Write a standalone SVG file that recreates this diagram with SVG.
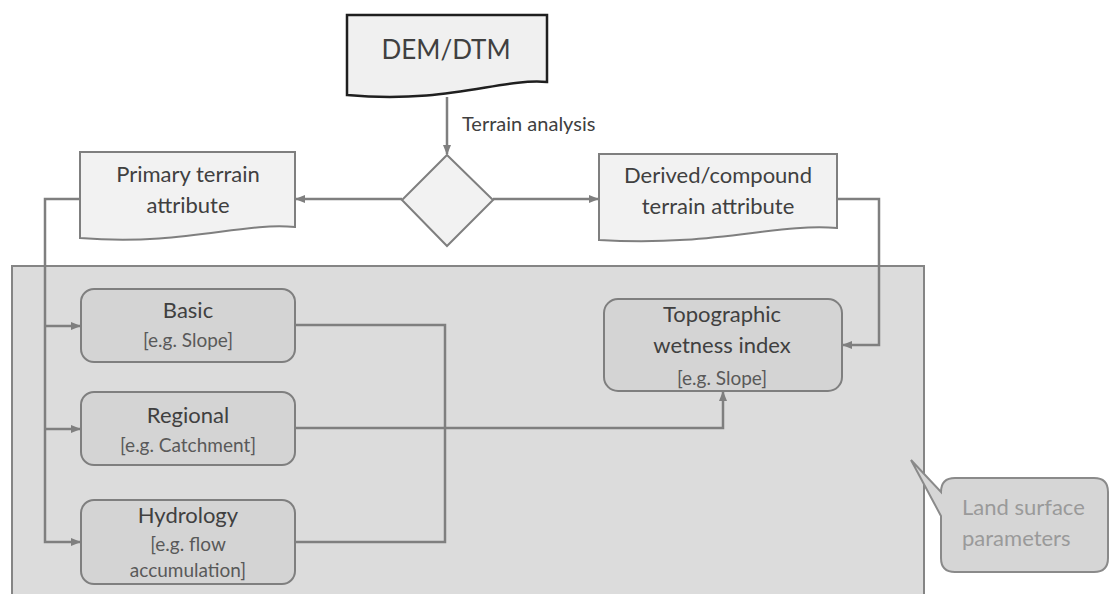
<svg xmlns="http://www.w3.org/2000/svg" width="1109" height="594" viewBox="0 0 1109 594">
<defs>
<marker id="ah" viewBox="0 0 10 10" refX="9" refY="5" markerWidth="10" markerHeight="10" markerUnits="userSpaceOnUse" orient="auto">
<path d="M0,1 L10,5 L0,9 Z" fill="#7f7f7f"/>
</marker>
<style>
.lbl{font-family:Lato,"Liberation Sans",sans-serif;font-size:22px;fill:#404040;text-anchor:middle}
.sub{font-family:Lato,"Liberation Sans",sans-serif;font-size:19px;fill:#595959;text-anchor:middle}
.doc{fill:#f2f2f2;stroke:#7f7f7f;stroke-width:2}
.rbox{fill:#d4d4d4;stroke:#7f7f7f;stroke-width:2}
.con{fill:none;stroke:#7f7f7f;stroke-width:2.5}
</style>
</defs>
<rect width="1109" height="594" fill="#ffffff"/>
<g id="panel">
<rect x="12" y="266" width="912" height="340" fill="#dcdcdc" stroke="#858585" stroke-width="2"/>
</g>
<g id="dem">
<path d="M347,15 H547 V82 C500,78 450,104 347,95 Z" fill="#f0f0f0" stroke="#1f1f1f" stroke-width="2.5"/>
<text x="446" y="59" class="lbl" style="font-size:26px">DEM/DTM</text>
</g>
<g id="decision">
<path d="M447,155 L493,200 L447,246 L402,200 Z" class="doc"/>
</g>
<g id="primary">
<path d="M80,152 H295 V227 C240,222 185,246 80,238 Z" class="doc"/>
<text x="188" y="182" class="lbl">Primary terrain</text>
<text x="188" y="213" class="lbl">attribute</text>
</g>
<g id="derived">
<path d="M599,154 H837 V228 C775,223 715,247 599,240 Z" class="doc"/>
<text x="718" y="183" class="lbl">Derived/compound</text>
<text x="718" y="214" class="lbl">terrain attribute</text>
</g>
<g id="basic">
<rect x="81" y="289" width="214" height="73" rx="13" class="rbox"/>
<text x="188" y="318" class="lbl">Basic</text>
<text x="188" y="347" class="sub">[e.g. Slope]</text>
</g>
<g id="regional">
<rect x="81" y="392" width="214" height="73" rx="13" class="rbox"/>
<text x="188" y="423" class="lbl">Regional</text>
<text x="188" y="452" class="sub">[e.g. Catchment]</text>
</g>
<g id="hydrology">
<rect x="81" y="500" width="214" height="84" rx="13" class="rbox"/>
<text x="188" y="523" class="lbl">Hydrology</text>
<text x="188" y="551" class="sub">[e.g. flow</text>
<text x="188" y="577" class="sub">accumulation]</text>
</g>
<g id="twi">
<rect x="604" y="299" width="238" height="92" rx="14" class="rbox"/>
<text x="722" y="322" class="lbl">Topographic</text>
<text x="722" y="353" class="lbl">wetness index</text>
<text x="722" y="385" class="sub">[e.g. Slope]</text>
</g>
<g id="connectors">
<path d="M447,97 V154" class="con" marker-end="url(#ah)"/>
<text x="462" y="131" font-family="Lato,'Liberation Sans',sans-serif" font-size="20" fill="#404040">Terrain analysis</text>
<path d="M402,199 H296" class="con" marker-end="url(#ah)"/>
<path d="M493,199 H598" class="con" marker-end="url(#ah)"/>
<path d="M80,199 H45 V542 H80" class="con" marker-end="url(#ah)"/>
<path d="M45,326 H80" class="con" marker-end="url(#ah)"/>
<path d="M45,429 H80" class="con" marker-end="url(#ah)"/>
<path d="M295,325 H445 V542 H295" class="con"/>
<path d="M295,428 H723 V392" class="con" marker-end="url(#ah)"/>
<path d="M837,199 H879 V345 H843" class="con" marker-end="url(#ah)"/>
</g>
<g id="callout">
<path d="M955,478 H1094 Q1108,478 1108,492 V558 Q1108,572 1094,572 H955 Q941,572 941,558 V516 L911,460 L941,492 Q941,478 955,478 Z" fill="#d6d6d6" stroke="#8a8a8a" stroke-width="2"/>
<text x="962" y="515" font-family="Lato,'Liberation Sans',sans-serif" font-size="22" fill="#9a9a9a">Land surface</text>
<text x="962" y="546" font-family="Lato,'Liberation Sans',sans-serif" font-size="22" fill="#9a9a9a">parameters</text>
</g>
</svg>
